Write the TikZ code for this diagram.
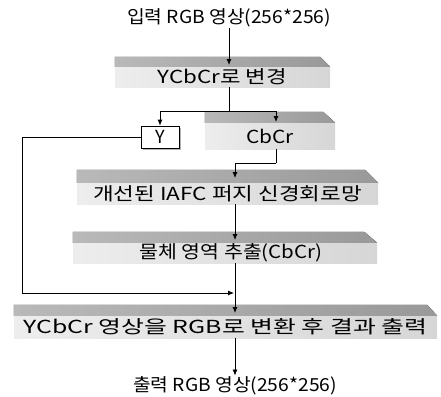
\documentclass[tikz,border=0pt]{standalone}
\usepackage{fontspec}
\usepackage{graphicx}
\setmainfont{Noto Sans CJK KR}
\usetikzlibrary{arrows.meta,calc}
\newcommand{\sx}[2]{\scalebox{#1}[1]{#2}}
\tikzset{
  front/.style={inner sep=0pt, left color=gray!14, right color=gray!32, font=\fontsize{18}{20}\selectfont},
  topface/.style={left color=gray!55, right color=gray!80},
  ybox/.style={draw, line width=0.8pt, fill=white, inner sep=0pt, minimum width=38pt, minimum height=22pt, font=\fontsize{18}{20}\selectfont},
  label/.style={inner sep=1pt, font=\fontsize{18}{20}\selectfont},
  line/.style={line width=0.8pt},
  arr/.style={line width=0.8pt, -{Latex[length=6pt,width=5pt]}},
}
\newcommand{\slabtop}[3]{% node, height, slant
  \fill[topface] (#1.north west) -- ++(0,-#2) -- ($(#1.north east)+(-#3,-#2)$) -- (#1.north east) -- cycle;}
\begin{document}
\begin{tikzpicture}[x=1pt,y=-1pt]
\useasboundingbox (0,0) rectangle (441,396);
% title
\node[label] (in) at (229,18) {\sx{1.07}{입력 RGB 영상(256*256)}};
% box 1
\node[front, minimum width=215, minimum height=20] (b1) at (222.5,77) {\sx{1.24}{YCbCr로 변경}};
\slabtop{b1}{10}{10}
% CbCr
\node[front, minimum width=130, minimum height=26] (b2) at (270,136) {\sx{1.16}{CbCr}};
\slabtop{b2}{11}{12}
% Y
\fill[gray!60] (143,128) rectangle (181,150);
\node[ybox] (y) at (160,137) {Y};
% box 3
\node[front, minimum width=301, minimum height=21] (b3) at (227.5,193.5) {\sx{1.25}{개선된 IAFC 퍼지 신경회로망}};
\slabtop{b3}{13}{13}
% box 4
\node[front, minimum width=304, minimum height=20] (b4) at (225,253) {\hspace*{12pt}\sx{1.14}{물체 영역 추출(CbCr)}};
\slabtop{b4}{11}{13}
% box 5
\node[front, minimum width=423, minimum height=22] (b5) at (225.5,327) {\sx{1.38}{YCbCr 영상을 RGB로 변환 후 결과 출력}};
\slabtop{b5}{11}{10}
% output
\node[label] (out) at (235,386) {\sx{1.07}{출력 RGB 영상(256*256)}};
% coordinates
\coordinate (t1) at (229,65);
\coordinate (j1) at (229,111);
\coordinate (t2) at (276,122);
\coordinate (j2) at (276,163);
\coordinate (t3) at (235,178);
\coordinate (t4) at (235,240);
\coordinate (t5) at (235,313);
\coordinate (c1) at (22,137);
\coordinate (c2) at (22,293);
\coordinate (m5) at (234,293);
% connectors
\draw[arr] (in) -- (t1);
\draw[line] (j1 |- b1.south) -- (j1);
\draw[arr] (j1) -| (y);
\draw[arr] (j1) -| (t2);
\draw[line] (j2 |- b2.south) -- (j2);
\draw[arr] (j2) -| (t3);
\draw[arr] (t3 |- b3.south) -- (t4);
\draw[arr] (t4 |- b4.south) -- (t5);
\draw[arr] (y.west) -- (c1) -- (c2) -- (m5);
\draw[arr] (t5 |- b5.south) -- (out);
\end{tikzpicture}
\end{document}
